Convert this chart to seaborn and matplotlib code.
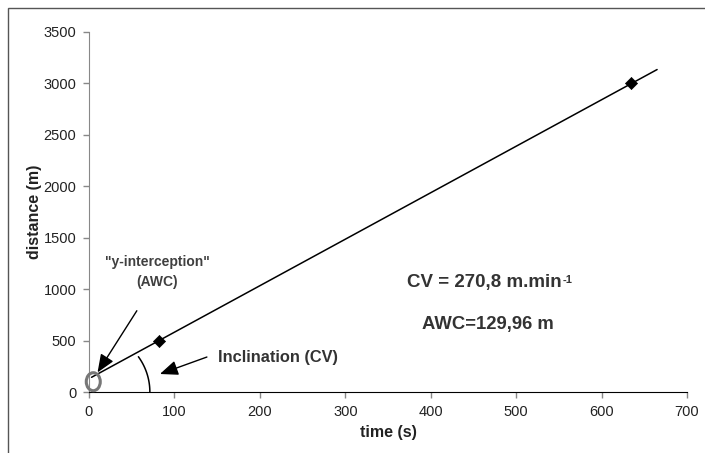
import matplotlib
matplotlib.use("Agg")
import matplotlib.pyplot as plt
from matplotlib.patches import Ellipse
import seaborn as sns
import numpy as np
import pandas as pd

# measured points
time_s = [82, 635]
distance_m = [500, 3000]

# regression line endpoints
line_time = [3, 665]
line_dist = [143, 3135]

x_ticks = [0, 100, 200, 300, 400, 500, 600, 700]
y_ticks = [0, 500, 1000, 1500, 2000, 2500, 3000, 3500]

cv_text = "CV = 270,8 m.min"
cv_sup = "-1"
awc_text = "AWC=129,96 m"

sns.set_style("ticks")
plt.rcParams['font.family'] = ['Liberation Sans', 'DejaVu Sans']

pts = pd.DataFrame({"time": time_s, "distance": distance_m})
fit = pd.DataFrame({"time": line_time, "distance": line_dist})

fig = plt.figure(figsize=(7.05, 4.53), dpi=100)
ax = fig.add_axes([89 / 705, 1 - 392 / 453, 598 / 705, 360 / 453])

sns.lineplot(data=fit, x="time", y="distance", color="black", lw=1.1, ax=ax)
sns.scatterplot(data=pts, x="time", y="distance", marker="D", color="black",
                s=38, edgecolor="black", zorder=5, ax=ax)

ax.set_xlim(0, 700)
ax.set_ylim(0, 3500)
ax.set_xticks(x_ticks)
ax.set_yticks(y_ticks)
ax.tick_params(labelsize=10.5, colors="#888888", labelcolor="#222222",
               length=4, width=1, direction="out", pad=5)
sns.despine(ax=ax)
ax.spines["left"].set_color("#888888")
ax.spines["bottom"].set_color("black")
ax.set_xlabel("time (s)", fontsize=11.5, fontweight="bold", color="#222222", labelpad=5)
ax.set_ylabel("distance (m)", fontsize=11.5, fontweight="bold", color="#222222", labelpad=1)

# figure frame
fig.add_artist(plt.Rectangle((8 / 705, -0.1), 1.2, 1 - 8 / 453 + 0.1,
                             transform=fig.transFigure, fill=False,
                             edgecolor="#555555", lw=1))

gray = "#404040"
arrow = dict(arrowstyle="-|>,head_length=1.1,head_width=0.45",
             color="black", lw=1, shrinkA=0, shrinkB=0)
ax.text(80, 1166, '"y-interception"\n(AWC)', ha="center", va="center",
        fontsize=10, fontweight="bold", color=gray, linespacing=1.55)
ax.annotate("", xy=(10, 190), xytext=(56, 790), arrowprops=arrow)
ax.text(151, 340, "Inclination (CV)", ha="left", va="center",
        fontsize=11.8, fontweight="bold", color="#333333")
ax.annotate("", xy=(83, 175), xytext=(138, 340), arrowprops=arrow)

cv = ax.text(372, 1060, cv_text, ha="left", va="center", fontsize=13.5,
             fontweight="bold", color="#333333")
ax.annotate(cv_sup, xy=(1, 0.95), xycoords=cv, xytext=(1, 0),
            textcoords="offset points", ha="left", va="top", fontsize=8,
            fontweight="bold", color="#333333")
ax.text(390, 660, awc_text, ha="left", va="center", fontsize=13.3,
        fontweight="bold", color="#333333")

# angle arc (drawn in pixel space so it is circular)
px_per_x = 598 / 700
px_per_y = 360 / 3500
theta = np.radians(np.linspace(0, 36, 60))
r_px = 60
ax.plot(1 + r_px * np.cos(theta) / px_per_x, r_px * np.sin(theta) / px_per_y,
        color="black", lw=1.1)

# ellipse marking the intercept
ax.add_patch(Ellipse((5, 100), 14 / px_per_x, 18 / px_per_y, fill=False,
                     edgecolor="#777777", lw=2.2, zorder=6, clip_on=False))

fig.savefig("out.png", dpi=100)
